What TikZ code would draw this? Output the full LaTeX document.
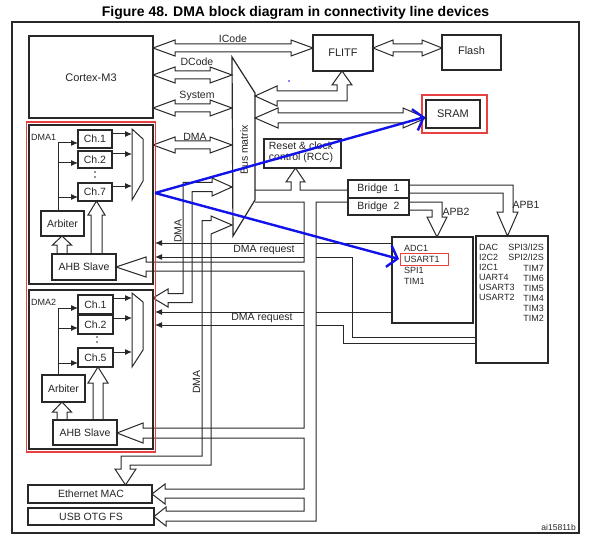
\documentclass[tikz,border=0pt]{standalone}
\usepackage{fontspec}
\setmainfont{Liberation Sans}
\usetikzlibrary{arrows.meta}
\definecolor{lncol}{RGB}{40,40,40}
\definecolor{redcol}{RGB}{232,64,64}
\definecolor{bluecol}{RGB}{18,18,235}
% horizontal hollow double arrow: x1, x2, y, head length, head half width, shaft half width
\newcommand{\HDbl}[6]{%
  \draw[bus] (#1,#3) -- (#1+#4,#3-#5) -- (#1+#4,#3-#6) -- (#2-#4,#3-#6) -- (#2-#4,#3-#5) -- (#2,#3) -- (#2-#4,#3+#5) -- (#2-#4,#3+#6) -- (#1+#4,#3+#6) -- (#1+#4,#3+#5) -- cycle;}
\begin{document}
\begin{tikzpicture}[x=1pt,y=-1pt,
  bus/.style={draw=lncol, line width=1pt, line join=miter},
  box/.style={draw=lncol, line width=1.2pt},
  lbl/.style={font=\fontsize{10.5}{11.5}\selectfont, text=black!85, inner sep=0pt},
  big/.style={font=\fontsize{11}{12}\selectfont, text=black!85, inner sep=0pt},
  per/.style={font=\fontsize{9}{10}\selectfont, text=black!85, inner sep=0pt},
  req/.style={draw=lncol, line width=1pt, -{Latex[length=7pt,width=6pt]}},
  blu/.style={draw=bluecol, line width=2.4pt, -{Straight Barb[length=9pt,width=22pt]}},
  redframe/.style={draw=redcol, line width=1.3pt},
]
\useasboundingbox (0,0) rectangle (591,540);
\fill[white] (0,0) rectangle (591,540);

% title and frame
\node[font=\bfseries\fontsize{14}{16}\selectfont, inner sep=0pt] (title) at (295.5,13) {Figure 48. DMA block diagram in connectivity line devices};
\draw[box] (12,22) rectangle (579,533);

% Cortex, FLITF, Flash, SRAM
\draw[box] (29,36) rectangle (153,118); \node[big] (cortex) at (91,78) {Cortex-M3};
\draw[box] (313,35) rectangle (373,71); \node[big] (flitf) at (343,53) {FLITF};
\draw[box] (442,35) rectangle (501,70); \node[big] (flash) at (471.5,51) {Flash};
\draw[redframe] (422,95) rectangle (487,133);
\draw[draw=lncol, line width=1.7pt] (426,100) rectangle (480,128); \node[big] (sram) at (453,114) {SRAM};

% bus arrows left of bus matrix
\HDbl{153}{313}{48}{22}{8}{4}
\node[lbl] (icode) at (233,39) {ICode};
\HDbl{373}{442}{48}{20}{8}{4}
\HDbl{153}{232}{75}{22}{8}{4}
\node[lbl] (dcode) at (197,62) {DCode};
\HDbl{153}{232}{108}{22}{8}{4}
\node[lbl] (system) at (197,96) {System};
\HDbl{153}{232}{145}{22}{8}{4}
\node[lbl] (dmab) at (195,137) {DMA};

% bus matrix
\draw[box] (232,57) -- (255,93) -- (255,200) -- (233,236) -- cycle;
\node[lbl, rotate=90] (busmx) at (244,150) {Bus matrix};

% DMA2 bus to bus matrix
\draw[bus] (153,298) -- (168,289) -- (168,293.5) -- (183,293.5) -- (183,182.5) -- (212,182.5) -- (212,178) -- (232,187) -- (212,196) -- (212,191.5) -- (192,191.5) -- (192,302.5) -- (168,302.5) -- (168,307) -- cycle;
\node[lbl, rotate=90] (dma2lbl) at (178,231) {DMA};

% Ethernet DMA bus
\draw[bus] (232,225) -- (211,216) -- (211,220.5) -- (202,220.5) -- (202,456) -- (121,456) -- (121,469) -- (115,469) -- (125.5,485) -- (136,469) -- (130,469) -- (130,465) -- (211,465) -- (211,234) -- cycle;
\node[lbl, rotate=90] (ethlbl) at (196.5,382) {DMA};

% FLITF and SRAM buses
\draw[bus] (255,96) -- (277,86) -- (277,91) -- (337,91) -- (337,85) -- (332,85) -- (342,71) -- (352,85) -- (347,85) -- (347,101) -- (277,101) -- (277,106) -- cycle;
\HDbl{255}{426}{118}{23}{10}{5}

% RCC
\draw[box] (264,139) rectangle (341,168);
\node[lbl, align=center] (rcc) at (301,152.5) {Reset \& clock\\control (RCC)};

% AHB system bus with branches
\draw[bus] (255,190) -- (291,190) -- (291,182) -- (286,182) -- (295.5,168) -- (305,182) -- (300,182) -- (300,190) -- (348,190);
\draw[bus] (348,202) -- (316,202) -- (316,521) -- (166,521) -- (166,526) -- (154,516.5) -- (166,507) -- (166,511) -- (304,511) -- (304,498) -- (165,498) -- (165,504) -- (152,494) -- (165,484) -- (165,489) -- (304,489) -- (304,438) -- (143,438) -- (143,443) -- (117,433) -- (143,423) -- (143,428) -- (304,428) -- (304,271) -- (146,271) -- (146,277) -- (116,267) -- (146,257) -- (146,262) -- (304,262) -- (304,202) -- (255,202);

% bridges
\draw[box] (348,180) rectangle (409,198); \node[lbl] (br1) at (378.5,189) {Bridge\ \ 1};
\draw[box] (348,198) rectangle (409,215); \node[lbl] (br2) at (378.5,207) {Bridge\ \ 2};

% APB buses
\draw[bus] (409,185) -- (513,185) -- (513,212) -- (518,212) -- (507.5,236) -- (497,212) -- (503,212) -- (503,193) -- (409,193);
\node[lbl] (apb1) at (526,205) {APB1};
\draw[bus] (409,202) -- (442,202) -- (442,217) -- (447,217) -- (437,237) -- (427,217) -- (432,217) -- (432,210) -- (409,210);
\node[lbl] (apb2) at (456,212) {APB2};

% APB2 peripherals
\draw[box] (392,237) rectangle (473,323);
\node[per, anchor=west] (adc1) at (404,248) {ADC1};
\node[per, anchor=west] (usart1) at (404,259) {USART1};
\node[per, anchor=west] (spi1) at (404,270) {SPI1};
\node[per, anchor=west] (tim1) at (404,281) {TIM1};
\draw[draw=redcol, line width=1pt] (400,253) rectangle (448,265);

% APB1 peripherals
\draw[box] (476,236) rectangle (548,363);
\node[per, anchor=west] (dac) at (479,247) {DAC};
\node[per, anchor=west] (i2c2) at (479,257) {I2C2};
\node[per, anchor=west] (i2c1) at (479,267) {I2C1};
\node[per, anchor=west] (uart4) at (479,277) {UART4};
\node[per, anchor=west] (usart3) at (479,287) {USART3};
\node[per, anchor=west] (usart2) at (479,297) {USART2};
\node[per, anchor=east] (spi3) at (544,247) {SPI3/I2S};
\node[per, anchor=east] (spi2) at (544,257) {SPI2/I2S};
\node[per, anchor=east] (tim7) at (544,268) {TIM7};
\node[per, anchor=east] (tim6) at (544,278) {TIM6};
\node[per, anchor=east] (tim5) at (544,288) {TIM5};
\node[per, anchor=east] (tim4) at (544,298) {TIM4};
\node[per, anchor=east] (tim3) at (544,308) {TIM3};
\node[per, anchor=east] (tim2) at (544,318) {TIM2};

% DMA request lines
\draw[bus] (392,243) -- (316,243);
\draw[req] (304,243) -- (155,243);
\draw[bus] (476,337) -- (352,337) -- (352,257) -- (316,257);
\draw[req] (304,257) -- (155,257);
\draw[bus] (392,312) -- (316,312);
\draw[req] (304,312) -- (155,312);
\draw[bus] (476,343) -- (343,343) -- (343,325) -- (316,325);
\draw[req] (304,325) -- (155,325);
\node[lbl] (req1) at (264,250) {DMA request};
\node[lbl] (req2) at (262,318) {DMA request};

% DMA controllers frame
\draw[redframe] (26.5,122) rectangle (155.5,452);

% ---- DMA1 ----
\draw[box] (29,125) rectangle (153,284);
\node[per, anchor=west] (dma1) at (31,137) {DMA1};
\draw[box] (78,130) rectangle (112,148); \node[lbl] (c11) at (95,139) {Ch.1};
\draw[box] (78,151) rectangle (112,168); \node[lbl] (c12) at (95,159.5) {Ch.2};
\draw[box] (78,183) rectangle (112,201); \node[lbl] (c17) at (95,192) {Ch.7};
\fill[lncol] (95,172) circle (0.9pt); \fill[lncol] (95,177) circle (0.9pt);
\draw[bus] (132,129) -- (143,139) -- (143,181) -- (132,200) -- cycle;
\draw[req] (112,134) -- (132,134);
\draw[req] (112,154) -- (132,154);
\draw[req] (112,186) -- (132,186);
\draw[bus] (58,211) -- (58,143);
\draw[req] (58,143) -- (78,143);
\draw[req] (58,163) -- (78,163);
\draw[req] (58,197) -- (78,197);
\draw[box] (41,211) rectangle (84,236); \node[lbl] (arb1) at (62.5,223.5) {Arbiter};
\draw[box] (52,254) rectangle (116,280); \node[lbl] (ahb1) at (84,267) {AHB Slave};
\draw[bus] (57,254) -- (57,245) -- (52.5,245) -- (62,236) -- (71.5,245) -- (67,245) -- (67,254);
\draw[bus] (91,254) -- (91,215) -- (88,215) -- (96.5,201) -- (105,215) -- (102,215) -- (102,254);

% ---- DMA2 ----
\draw[box] (29,290) rectangle (153,449);
\node[per, anchor=west] (dma2) at (31,302) {DMA2};
\draw[box] (78,295) rectangle (113,314); \node[lbl] (c21) at (95.5,304.5) {Ch.1};
\draw[box] (78,315) rectangle (113,334); \node[lbl] (c22) at (95.5,324.5) {Ch.2};
\draw[box] (78,348) rectangle (113,367); \node[lbl] (c25) at (95.5,357.5) {Ch.5};
\fill[lncol] (97,337) circle (0.9pt); \fill[lncol] (97,342) circle (0.9pt);
\draw[bus] (132,293) -- (143,302) -- (143,350) -- (132,367) -- cycle;
\draw[req] (113,298) -- (132,298);
\draw[req] (113,318) -- (132,318);
\draw[req] (113,352) -- (132,352);
\draw[bus] (58,375) -- (58,308);
\draw[req] (58,308) -- (78,308);
\draw[req] (58,328) -- (78,328);
\draw[req] (58,363) -- (78,363);
\draw[box] (42,375) rectangle (85,402); \node[lbl] (arb2) at (63.5,388.5) {Arbiter};
\draw[box] (53,420) rectangle (117,445); \node[lbl] (ahb2) at (85,432.5) {AHB Slave};
\draw[bus] (57,420) -- (57,412) -- (52.5,412) -- (62,402) -- (71.5,412) -- (67,412) -- (67,420);
\draw[bus] (93,420) -- (93,383) -- (88,383) -- (98,367) -- (108,383) -- (103,383) -- (103,420);

% Ethernet and USB
\draw[box] (28,485) rectangle (152,503); \node[lbl] (eth) at (91,494) {Ethernet MAC};
\draw[box] (28,508) rectangle (154,525); \node[lbl] (usb) at (91,516.5) {USB OTG FS};

\node[font=\fontsize{8.5}{10}\selectfont, text=black!85, inner sep=0pt, anchor=east] (ref) at (576,527) {ai15811b};

% blue highlight arrows
\coordinate (bsrc) at (155,193);
\coordinate (bsram) at (425,117);
\coordinate (busart) at (399,259);
\draw[blu] (bsrc) -- (bsram);
\draw[blu] (bsrc) -- (busart);
\fill[bluecol] (289,81) circle (0.9pt);
\end{tikzpicture}
\end{document}
